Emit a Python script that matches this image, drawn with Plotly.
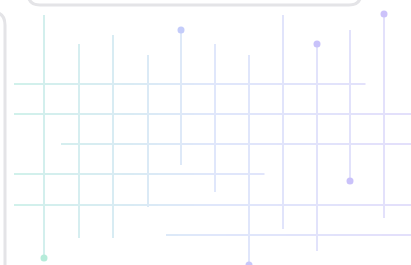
import plotly.graph_objects as go

# Vertical lines: x position, top end, bottom end
v_x = [44, 79, 113, 148, 181, 215, 249, 283, 317, 350, 384]
v_top = [15, 44, 35, 55, 30, 44, 55, 15, 44, 30, 14]
v_bottom = [258, 238, 238, 207, 165, 192, 265, 229, 251, 181, 218]

# Horizontal lines: y position, left end, right end
h_y = [84, 114, 144, 174, 205, 235]
h_left = [14, 14, 61, 14, 14, 166]
h_right = [365, 411, 411, 264, 411, 411]

# Dots at line ends
dot_x = [44, 181, 249, 317, 350, 384]
dot_y = [258, 30, 265, 44, 181, 14]
dot_colors = ["rgb(182,236,218)", "rgb(196,204,250)", "rgb(200,200,250)",
              "rgb(200,194,250)", "rgb(202,194,250)", "rgb(204,194,250)"]

W, H = 411, 265
C0 = (208, 242, 234)   # teal (left)
C1 = (224, 232, 251)   # light blue (middle)
C2 = (228, 224, 252)   # lavender (right)


def col(x):
    t = max(0.0, min(1.0, x / W))
    if t < 0.5:
        a, b, u = C0, C1, t / 0.5
    else:
        a, b, u = C1, C2, (t - 0.5) / 0.5
    c = [a[i] + (b[i] - a[i]) * u for i in range(3)]
    return "rgb(%d,%d,%d)" % tuple(int(v) for v in c)


fig = go.Figure()

# horizontal lines drawn in short pieces for a left-to-right gradient
step = 12
for y, xl, xr in zip(h_y, h_left, h_right):
    x = xl
    while x < xr:
        xe = min(xr, x + step)
        fig.add_trace(go.Scatter(x=[x, xe + 0.5], y=[y, y], mode="lines",
                                 line=dict(color=col((x + xe) / 2), width=2),
                                 hoverinfo="skip", showlegend=False))
        x = xe

for x, yt, yb in zip(v_x, v_top, v_bottom):
    fig.add_trace(go.Scatter(x=[x, x], y=[yt, yb], mode="lines",
                             line=dict(color=col(x), width=2),
                             hoverinfo="skip", showlegend=False))

fig.add_trace(go.Scatter(x=dot_x, y=dot_y, mode="markers",
                         marker=dict(size=7, color=dot_colors, line=dict(width=0)),
                         hoverinfo="skip", showlegend=False))

gray = "rgb(228,228,231)"
shapes = [
    # top panel (bottom part visible)
    dict(type="path", path="M 28,-20 L 28,-7 Q 28,5 40,5 L 349,5 Q 361,5 361,-7 L 361,-20",
         line=dict(color=gray, width=3), xref="x", yref="y", layer="below"),
    # left panel (right edge visible)
    dict(type="path", path="M -20,12 L -8,12 Q 5,12 5,25 L 5,280",
         line=dict(color=gray, width=3), xref="x", yref="y", layer="below"),
]

fig.update_layout(
    width=W, height=H,
    margin=dict(l=0, r=0, t=0, b=0),
    paper_bgcolor="white", plot_bgcolor="white",
    xaxis=dict(range=[0, W], visible=False, fixedrange=True),
    yaxis=dict(range=[H, 0], visible=False, fixedrange=True),
    shapes=shapes,
    hovermode=False,
)

fig.write_html("out.html",
               config={"displayModeBar": False, "staticPlot": True},
               post_script="document.body.style.margin='0';document.body.style.overflow='hidden';")
